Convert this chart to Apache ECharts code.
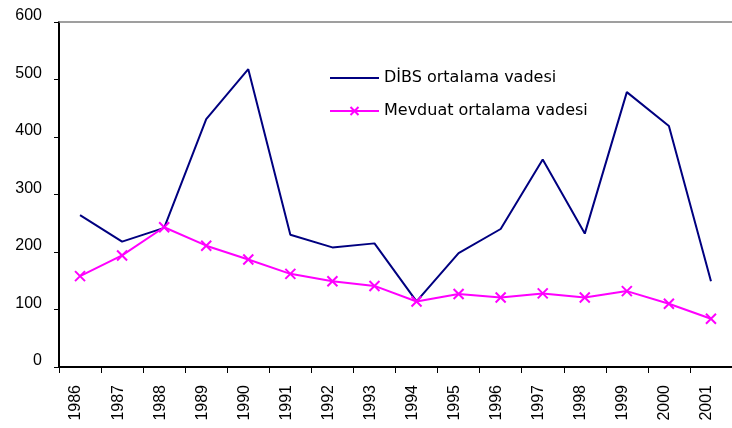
<!DOCTYPE html>
<html>
<head>
<meta charset="utf-8">
<script src="https://cdn.jsdelivr.net/npm/echarts@6/dist/echarts.min.js"></script>
<style>html,body{margin:0;padding:0;background:#fff}#c{width:732px;height:428px}</style>
</head>
<body>
<div id="c"></div>
<script>
const years = ['1986','1987','1988','1989','1990','1991','1992','1993','1994','1995','1996','1997','1998','1999','2000','2001'];
const dibs = [264, 218, 242, 431, 518, 230, 208, 215, 114, 198, 240, 361, 232, 478, 419, 149];
const mevduat = [158, 194, 243, 211, 187, 162, 149, 141, 114, 127, 121, 128, 121, 132, 110, 84];
const yTicks = [0, 100, 200, 300, 400, 500, 600];
const seriesNames = ['DİBS ortalama vadesi', 'Mevduat ortalama vadesi'];

const chart = echarts.init(document.getElementById('c'));
const xPath = 'path://M0,0L10,10M10,0L0,10';
chart.setOption({
  animation: false,
  backgroundColor: '#ffffff',
  grid: { left: 59, top: 22, right: -9, bottom: 61 },
  legend: {
    left: 324, top: 65, orient: 'vertical', itemGap: 17,
    itemWidth: 49, itemHeight: 10,
    textStyle: { fontFamily: 'DejaVu Sans', fontSize: 16, color: '#000' },
    data: [{ name: seriesNames[0], itemStyle: { opacity: 0 } }, { name: seriesNames[1] }]
  },
  xAxis: [{
    type: 'category', data: years, boundaryGap: true,
    axisLine: { lineStyle: { color: '#000', width: 2 } },
    axisTick: { show: true, length: 6, lineStyle: { color: '#000', width: 1 } },
    axisLabel: { rotate: 90, fontFamily: 'Liberation Sans', fontSize: 16, color: '#000', margin: 18, interval: 0,
                 verticalAlign: 'bottom', lineHeight: 8 }
  }, {
    type: 'category', data: years, position: 'top',
    axisLine: { show: true, lineStyle: { color: '#808080', width: 1.5 } },
    axisTick: { show: false }, axisLabel: { show: false }
  }],
  yAxis: {
    type: 'value', min: yTicks[0], max: yTicks[yTicks.length - 1], interval: 100,
    axisLine: { show: true, lineStyle: { color: '#000', width: 2 } },
    axisTick: { show: true, length: 5, lineStyle: { color: '#000' } },
    splitLine: { show: false },
    axisLabel: { fontFamily: 'Liberation Sans', fontSize: 16, color: '#000', margin: 17,
                 verticalAlign: 'bottom', lineHeight: 12 }
  },
  series: [{
    name: seriesNames[0], type: 'line', data: dibs,
    showSymbol: false, symbol: 'none',
    lineStyle: { color: '#000080', width: 2 },
    itemStyle: { color: '#000080' }
  }, {
    name: seriesNames[1], type: 'line', data: mevduat,
    symbol: xPath, symbolSize: 10, showSymbol: true,
    lineStyle: { color: '#ff00ff', width: 2 },
    itemStyle: { color: 'rgba(0,0,0,0)', borderColor: '#ff00ff', borderWidth: 2 }
  }]
});
</script>
</body>
</html>
